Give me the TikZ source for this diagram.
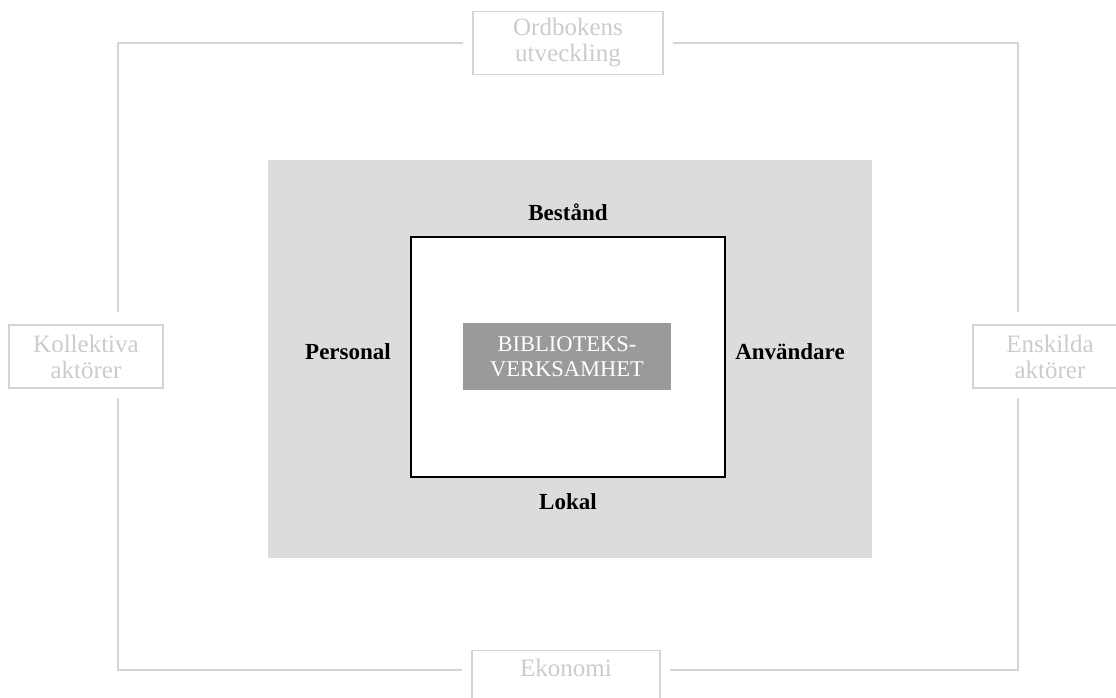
\documentclass[tikz,border=0pt]{standalone}
\usepackage{fontspec}
\setmainfont{Liberation Serif}
\definecolor{bggray}{HTML}{DCDCDC}
\definecolor{darkbox}{HTML}{9A9A9A}
\definecolor{framegray}{HTML}{D4D4D4}
\definecolor{fadetext}{HTML}{CCCCCC}
\tikzset{
  frame/.style={draw=framegray, line width=1.8pt},
  outerbox/.style={draw=framegray, line width=1.5pt, fill=white, minimum height=63pt, align=center, text=fadetext, font=\fontsize{25}{26}\selectfont, inner sep=0pt},
  lab/.style={font=\bfseries\fontsize{23}{26}\selectfont, text=black},
}
\begin{document}
\begin{tikzpicture}[x=1pt,y=-1pt]
\useasboundingbox (0,0) rectangle (1116,697);
% central area
\node[fill=bggray, minimum width=604pt, minimum height=398pt, inner sep=0pt] (bg) at (570,359) {};
\node[draw=black, line width=2pt, fill=white, minimum width=314pt, minimum height=240pt, inner sep=0pt] (core) at (568,357) {};
\node[fill=darkbox, text=white, minimum width=208pt, minimum height=67pt, inner sep=0pt, align=center, font=\fontsize{22.5}{25}\selectfont] (bv) at (567,356.5) {BIBLIOTEKS-\\VERKSAMHET};
\node[lab] (best) at (568,212) {Bestånd};
\node[lab] (pers) at (348,352) {Personal};
\node[lab] (anv) at (790,352) {Användare};
\node[lab] (lok) at (568,502) {Lokal};
% frame corners
\coordinate (tl) at (118,43);
\coordinate (tr) at (1018,43);
\coordinate (bl) at (118,670);
\coordinate (br) at (1018,670);
% outer boxes
\node[outerbox, minimum width=190pt] (ord) at (568,43) {Ordbokens\\utveckling};
\node[outerbox, minimum width=154pt] (kol) at (86,356.5) {Kollektiva\\aktörer};
\node[outerbox, minimum width=154pt] (ens) at (1050,356.5) {Enskilda\\aktörer};
\node[outerbox, minimum width=188pt] (eko) at (566,682) {};
\node[text=fadetext, font=\fontsize{25}{26}\selectfont] (ekot) at (566,668) {Ekonomi};
% frame connectors
\draw[frame, shorten <=9pt, shorten >=12pt] (ord.west) -- (tl) -- (tl |- kol.north);
\draw[frame, shorten <=9pt, shorten >=12pt] (ord.east) -- (tr) -- (tr |- ens.north);
\draw[frame, shorten <=9pt, shorten >=9pt] (tl |- kol.south) -- (bl) -- (bl -| eko.west);
\draw[frame, shorten <=9pt, shorten >=9pt] (tr |- ens.south) -- (br) -- (br -| eko.east);
\end{tikzpicture}
\end{document}
